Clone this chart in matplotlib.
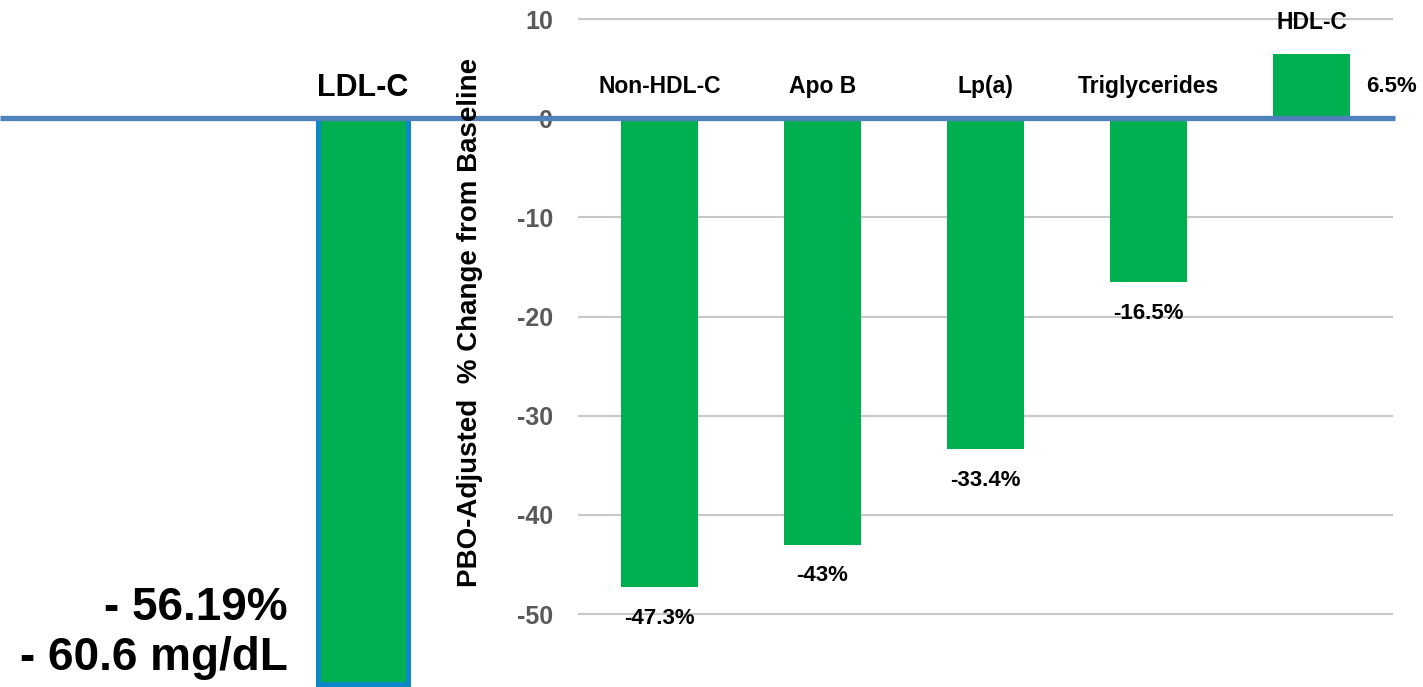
import matplotlib.pyplot as plt

plt.rcParams['font.family'] = ['Liberation Sans', 'DejaVu Sans']
plt.rcParams['font.weight'] = 'bold'
plt.rcParams['axes.unicode_minus'] = False

# PBO-adjusted % change from baseline
categories = ['Non-HDL-C', 'Apo B', 'Lp(a)', 'Triglycerides', 'HDL-C']
changes = [-47.3, -43.0, -33.4, -16.5, 6.5]
yticks = [10, 0, -10, -20, -30, -40, -50]

ldl_name = 'LDL-C'
ldl_pct = -56.19
ldl_mgdl = -60.6

green = '#00b050'
line_blue = '#4f81bd'
edge_blue = '#0a88c8'
W, H = 1423, 687

fig = plt.figure(figsize=(W / 100, H / 100), dpi=100)

# main panel on the right
ax = fig.add_axes([578 / W, 0, (1393 - 578) / W, 1])
x = range(len(categories))
ax.bar(x, changes, width=0.47, color=green, zorder=2)
ax.set_xlim(-0.5, 4.5)
ax.set_ylim(-57.36, 11.92)
ax.set_yticks(yticks)
ax.set_xticks([])
ax.grid(axis='y', color='#c8c8c8', lw=1.5, zorder=0)
for s in ax.spines.values():
    s.set_visible(False)
ax.tick_params(axis='y', length=0, pad=18, labelsize=18, labelcolor='#595959')
for lab in ax.get_yticklabels():
    lab.set_fontweight('bold')

for i, (c, v) in enumerate(zip(categories, changes)):
    if v >= 0:
        ax.text(i, v + 3.2, c, ha='center', va='center', fontsize=16.5, fontweight='bold')
        ax.annotate(f'{v:g}%', (i + 0.235, 3.15), xytext=(12, 0), textcoords='offset points',
                    ha='left', va='center', fontsize=16, fontweight='bold')
    else:
        ax.text(i, 3.15, c, ha='center', va='center', fontsize=16.5, fontweight='bold')
        ax.annotate(f'{v:g}%', (i, v), xytext=(0, -22.5), textcoords='offset points',
                    ha='center', va='center', fontsize=16, fontweight='bold')

# left panel: LDL-C bar and the baseline across the figure
bg = fig.add_axes([0, 0, 1, 1], zorder=3)
bg.patch.set_visible(False)
bg.set_xlim(0, W)
bg.set_ylim(-56.49, 11.714)
bg.axis('off')
bg.bar(363, ldl_pct, width=90, color=green, edgecolor=edge_blue, linewidth=3.6)
bg.plot([0, 1395], [0, 0], color=line_blue, lw=3.8, solid_capstyle='butt')
bg.text(363, 2.95, ldl_name, ha='center', va='center', fontsize=22, fontweight='bold')

fig.text(288 / W, 1 - 620 / H, f'- {abs(ldl_pct):g}%', ha='right', va='baseline',
         fontsize=33, fontweight='bold')
fig.text(288 / W, 1 - 670 / H, f'- {abs(ldl_mgdl):g} mg/dL', ha='right', va='baseline',
         fontsize=33, fontweight='bold')

fig.text(470 / W, 1 - 322 / H, 'PBO-Adjusted  % Change from Baseline', rotation=90,
         ha='center', va='center', fontsize=20, fontweight='bold')

fig.savefig('out.png', dpi=100)
